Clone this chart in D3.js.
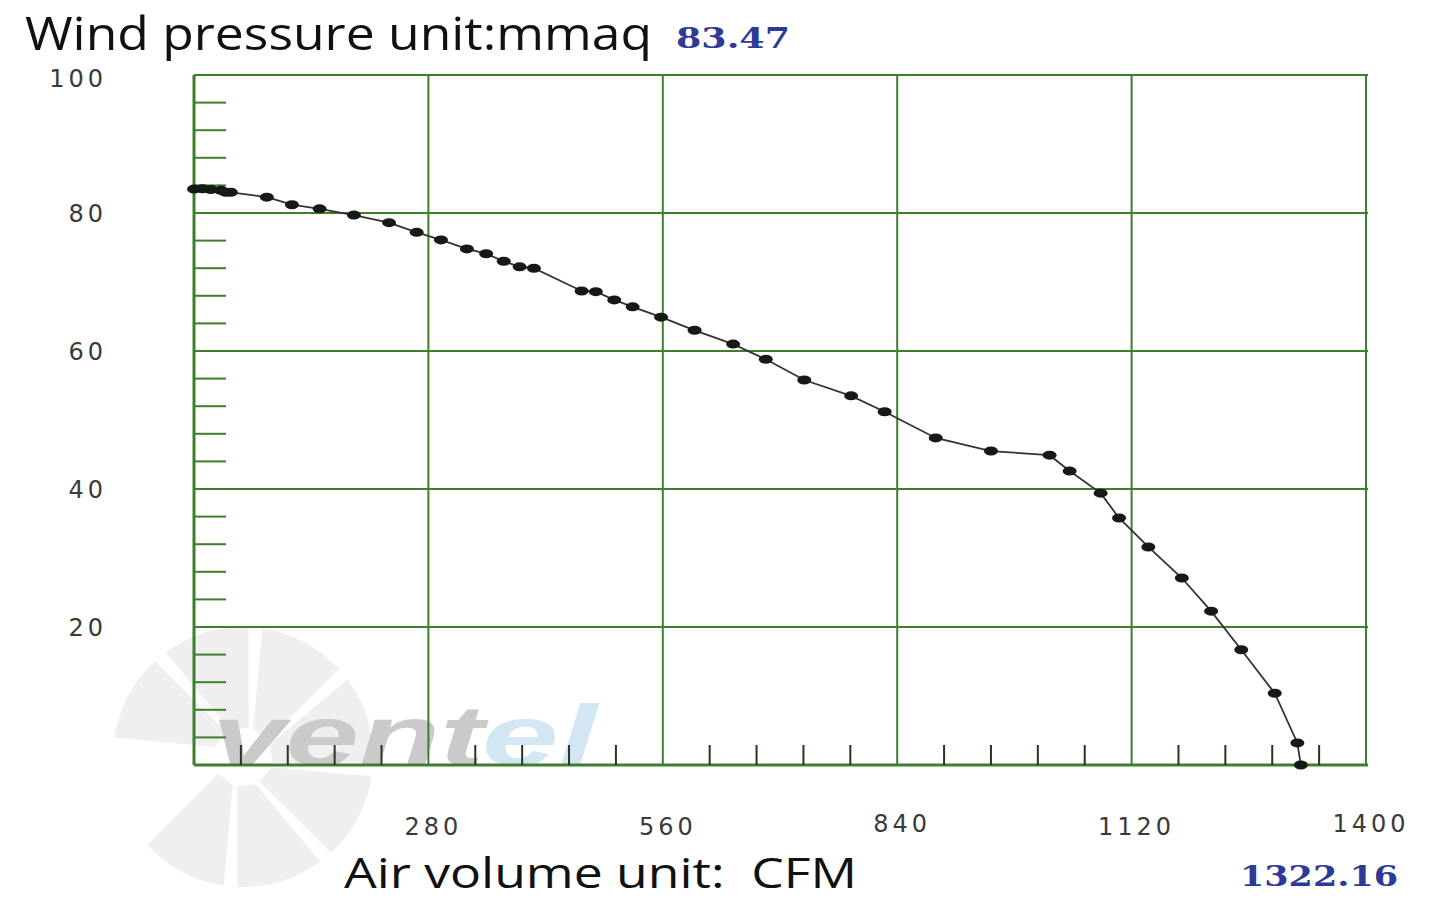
<!DOCTYPE html>
<html><head><meta charset="utf-8">
<script src="https://cdn.jsdelivr.net/npm/d3@7"></script>
<style>body{margin:0;background:#fff;}svg{display:block;}</style>
</head><body>
<svg id="c" width="1443" height="917"></svg>
<script>
const airVolume = [0, 10, 20, 32, 38, 44, 87, 117, 150, 191, 233, 266, 295, 326, 349, 370, 389, 406, 463, 480, 502, 524, 558, 598, 644, 683, 729, 785, 825, 886, 952, 1022, 1046, 1083, 1105, 1140, 1180, 1215, 1251, 1291, 1318, 1322.16];
const pressure  = [83.47, 83.5, 83.4, 83.3, 83.0, 83.0, 82.3, 81.2, 80.6, 79.7, 78.6, 77.2, 76.1, 74.8, 74.1, 73.0, 72.2, 72.0, 68.7, 68.6, 67.4, 66.4, 64.9, 63.0, 61.0, 58.8, 55.8, 53.5, 51.2, 47.4, 45.5, 44.9, 42.6, 39.4, 35.8, 31.6, 27.1, 22.3, 16.7, 10.4, 3.2, 0];
const xTickLabels = [280, 560, 840, 1120, 1400];
const yTickLabels = [20, 40, 60, 80, 100];
const xMinorStep = 56;
const yMinorStep = 4;
const titleY = "Wind pressure unit:mmaq";
const titleX = "Air volume unit:  CFM";
const maxPressure = "83.47";
const maxVolume = "1322.16";

const svg = d3.select("#c");
const x = d3.scaleLinear().domain([0, 1400]).range([194, 1366]);
const y = d3.scaleLinear().domain([0, 100]).range([765, 75]);
const green = "#3d7f2c";

// watermark
const wm = svg.append("g");
const cx = 243, cy = 757;
const bladeAngles = [-160, -115, -70, -25, 20, 65, 110];
bladeAngles.forEach(a => {
  const r = Math.PI / 180;
  const a0 = a * r, a1 = (a + 36) * r;
  const r0 = 30, r1 = 130;
  const p = d3.path();
  p.moveTo(cx + r0 * Math.cos(a0), cy + r0 * Math.sin(a0));
  p.lineTo(cx + r1 * Math.cos(a0 - 0.2), cy + r1 * Math.sin(a0 - 0.2));
  p.arc(cx, cy, r1, a0 - 0.2, a1 - 0.15);
  p.lineTo(cx + r0 * Math.cos(a1), cy + r0 * Math.sin(a1));
  p.closePath();
  wm.append("path").attr("d", p.toString()).attr("fill", "#efefef");
});
wm.append("text").attr("x", 212).attr("y", 765).attr("font-family", "Liberation Sans")
  .attr("font-weight", "bold").attr("font-style", "italic").attr("font-size", 86)
  .attr("textLength", 272).attr("lengthAdjust", "spacingAndGlyphs").attr("fill", "#cacaca").text("vent");
wm.append("text").attr("x", 482).attr("y", 765).attr("font-family", "Liberation Sans")
  .attr("font-weight", "bold").attr("font-style", "italic").attr("font-size", 86)
  .attr("textLength", 115).attr("lengthAdjust", "spacingAndGlyphs").attr("fill", "#d2e6f3").text("el");

// grid
const g = svg.append("g");
xTickLabels.forEach(v => {
  g.append("line").attr("x1", x(v)).attr("x2", x(v)).attr("y1", y(100)).attr("y2", y(0))
    .attr("stroke", green).attr("stroke-width", 2);
});
yTickLabels.forEach(v => {
  g.append("line").attr("x1", x(0)).attr("x2", x(1400) + 2).attr("y1", y(v)).attr("y2", y(v))
    .attr("stroke", green).attr("stroke-width", 2);
});
g.append("line").attr("x1", x(0)).attr("x2", x(0)).attr("y1", y(100)).attr("y2", y(0)).attr("stroke", green).attr("stroke-width", 3);
g.append("line").attr("x1", x(0)).attr("x2", x(1400)+2).attr("y1", y(0)).attr("y2", y(0)).attr("stroke", green).attr("stroke-width", 3);

d3.range(0, 100, yMinorStep).filter(v => v % 20 !== 0).forEach(v => {
  g.append("line").attr("x1", x(0)).attr("x2", x(0) + 32).attr("y1", y(v)).attr("y2", y(v))
    .attr("stroke", green).attr("stroke-width", 2);
});
d3.range(xMinorStep, 1400, xMinorStep).filter(v => v % 280 !== 0).forEach(v => {
  g.append("line").attr("x1", x(v)).attr("x2", x(v)).attr("y1", y(0)).attr("y2", y(0) - 20)
    .attr("stroke", "#1f3a14").attr("stroke-width", 2);
});

const lblFont = "DejaVu Sans";
svg.selectAll(".yl").data(yTickLabels).enter().append("text")
  .attr("x", 107).attr("y", d => y(d) + (d === 100 ? 12 : 9)).attr("text-anchor", "end")
  .attr("font-family", lblFont).attr("font-size", 24).attr("fill", "#3a3a3a")
  .attr("letter-spacing", 4).text(d => d);
svg.selectAll(".xl").data(xTickLabels).enter().append("text")
  .attr("x", d => x(d) + 5).attr("y", d => (d === 840 || d === 1400) ? 832 : 835).attr("text-anchor", "middle")
  .attr("font-family", lblFont).attr("font-size", 24).attr("fill", "#3a3a3a")
  .attr("letter-spacing", 4).text(d => d);

const pts = airVolume.map((v, i) => [v, pressure[i]]);
svg.append("path").datum(pts)
  .attr("d", d3.line().x(d => x(d[0])).y(d => y(d[1])))
  .attr("fill", "none").attr("stroke", "#333").attr("stroke-width", 1.8);
svg.selectAll(".pt").data(pts).enter().append("ellipse")
  .attr("cx", d => x(d[0])).attr("cy", d => y(d[1]))
  .attr("rx", 7).attr("ry", 4.5).attr("fill", "#151a15");

svg.append("text").attr("x", 25).attr("y", 50).attr("font-family", "Open Sans")
  .attr("font-size", 45).attr("textLength", 627).attr("lengthAdjust", "spacingAndGlyphs")
  .attr("fill", "#111").text(titleY);
svg.append("text").attr("x", 676).attr("y", 48).attr("font-family", "DejaVu Serif")
  .attr("font-weight", "bold").attr("font-size", 27).attr("textLength", 114)
  .attr("lengthAdjust", "spacingAndGlyphs").attr("fill", "#2e3a96").text(maxPressure);
svg.append("text").attr("x", 344).attr("y", 888).attr("font-family", "Open Sans")
  .attr("font-size", 42).attr("textLength", 513).attr("lengthAdjust", "spacingAndGlyphs")
  .attr("fill", "#111").attr("xml:space", "preserve").text(titleX);
svg.append("text").attr("x", 1240).attr("y", 886).attr("font-family", "DejaVu Serif")
  .attr("font-weight", "bold").attr("font-size", 27).attr("textLength", 158)
  .attr("lengthAdjust", "spacingAndGlyphs").attr("fill", "#2e3a96").text(maxVolume);
</script>
</body></html>
